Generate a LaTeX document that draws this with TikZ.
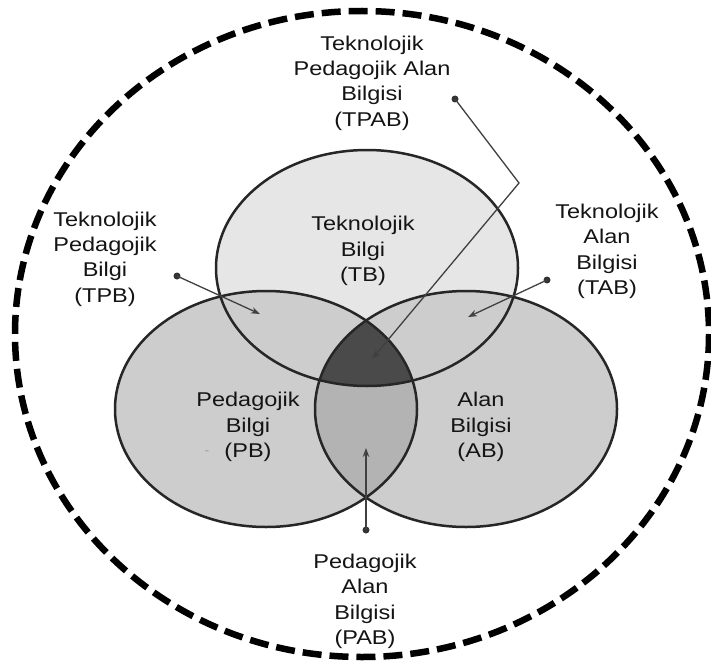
\documentclass[tikz,border=0pt]{standalone}
\usepackage{fontspec}
\setmainfont{Liberation Sans}[FakeStretch=1.18]
\usetikzlibrary{arrows.meta}

\definecolor{tbfill}{HTML}{E6E6E6}
\definecolor{sidefill}{HTML}{CDCDCD}
\definecolor{pabfill}{HTML}{B3B3B3}
\definecolor{tpabfill}{HTML}{4A4A4A}

\begin{document}
\begin{tikzpicture}[
    x=1bp, y=-1bp,
    >={Stealth[length=9bp,width=6.5bp]},
    font=\fontsize{20}{25.5}\selectfont,
    circ/.style={draw=black!85, line width=2.5bp},
    frame/.style={draw=black, line width=6.5bp, dash pattern=on 19bp off 8bp},
    lbl/.style={align=center, text=black!92, inner sep=0pt},
    ptr/.style={->, draw=black!75, line width=1.3bp},
    dot/.style={circle, fill=black!80, inner sep=0pt, minimum size=7bp}
]
\useasboundingbox (0,0) rectangle (711,665);

% ---- ellipse centres and radii ----
\def\rx{151}
\def\ry{118}
\coordinate (tbc) at (367,268);
\coordinate (pbc) at (266,409);
\coordinate (abc) at (466,409);

% ===== OUTER FRAME =====
\draw[frame] (362,334) ellipse [x radius=347, y radius=323];

% ===== FILLS =====
\fill[tbfill]   (tbc) ellipse [x radius=\rx, y radius=\ry];
\fill[sidefill] (pbc) ellipse [x radius=\rx, y radius=\ry];
\fill[sidefill] (abc) ellipse [x radius=\rx, y radius=\ry];
% PB and AB overlap
\begin{scope}
  \clip (pbc) ellipse [x radius=\rx, y radius=\ry];
  \fill[pabfill] (abc) ellipse [x radius=\rx, y radius=\ry];
  % all three overlap
  \clip (abc) ellipse [x radius=\rx, y radius=\ry];
  \fill[tpabfill] (tbc) ellipse [x radius=\rx, y radius=\ry];
\end{scope}

% ===== OUTLINES =====
\draw[circ] (tbc) ellipse [x radius=\rx, y radius=\ry];
\draw[circ] (pbc) ellipse [x radius=\rx, y radius=\ry];
\draw[circ] (abc) ellipse [x radius=\rx, y radius=\ry];

% ===== LABELS =====
\node[lbl] (tb)   at (363,251)   {Teknolojik\\Bilgi\\(TB)};
\node[lbl] (pb)   at (248,427)   {Pedagojik\\Bilgi\\(PB)};
\node[lbl] (ab)   at (481,427)   {Alan\\Bilgisi\\(AB)};
\node[lbl] (tpab) at (372,83)    {Teknolojik\\Pedagojik Alan\\Bilgisi\\(TPAB)};
\node[lbl] (tpb)  at (105,259)   {Teknolojik\\Pedagojik\\Bilgi\\(TPB)};
\node[lbl] (tab)  at (607,251.5) {Teknolojik\\Alan\\Bilgisi\\(TAB)};
\node[lbl] (pab)  at (365,601.5) {Pedagojik\\Alan\\Bilgisi\\(PAB)};
\node[lbl, text=black!40, font=\fontsize{12}{12}\selectfont] (pbmark) at (207,453) {-};

% ===== POINTERS =====
\node[dot] (tpbdot)  at (177,276) {};
\node[dot] (tabdot)  at (547,280) {};
\node[dot] (tpabdot) at (455,99)  {};
\node[dot] (pabdot)  at (366,530) {};

\coordinate (tpbtip)   at (260,314);
\coordinate (tabtip)   at (468,317);
\coordinate (tpabbend) at (519,183);
\coordinate (tpabtip)  at (372,359);
\coordinate (pabtip)   at (366,448);

\draw[ptr] (tpbdot.center)  -- (tpbtip);
\draw[ptr] (tabdot.center)  -- (tabtip);
\draw[ptr] (tpabdot.center) -- (tpabbend) -- (tpabtip);
\draw[ptr] (pabdot.center)  -- (pabtip);

\end{tikzpicture}
\end{document}
